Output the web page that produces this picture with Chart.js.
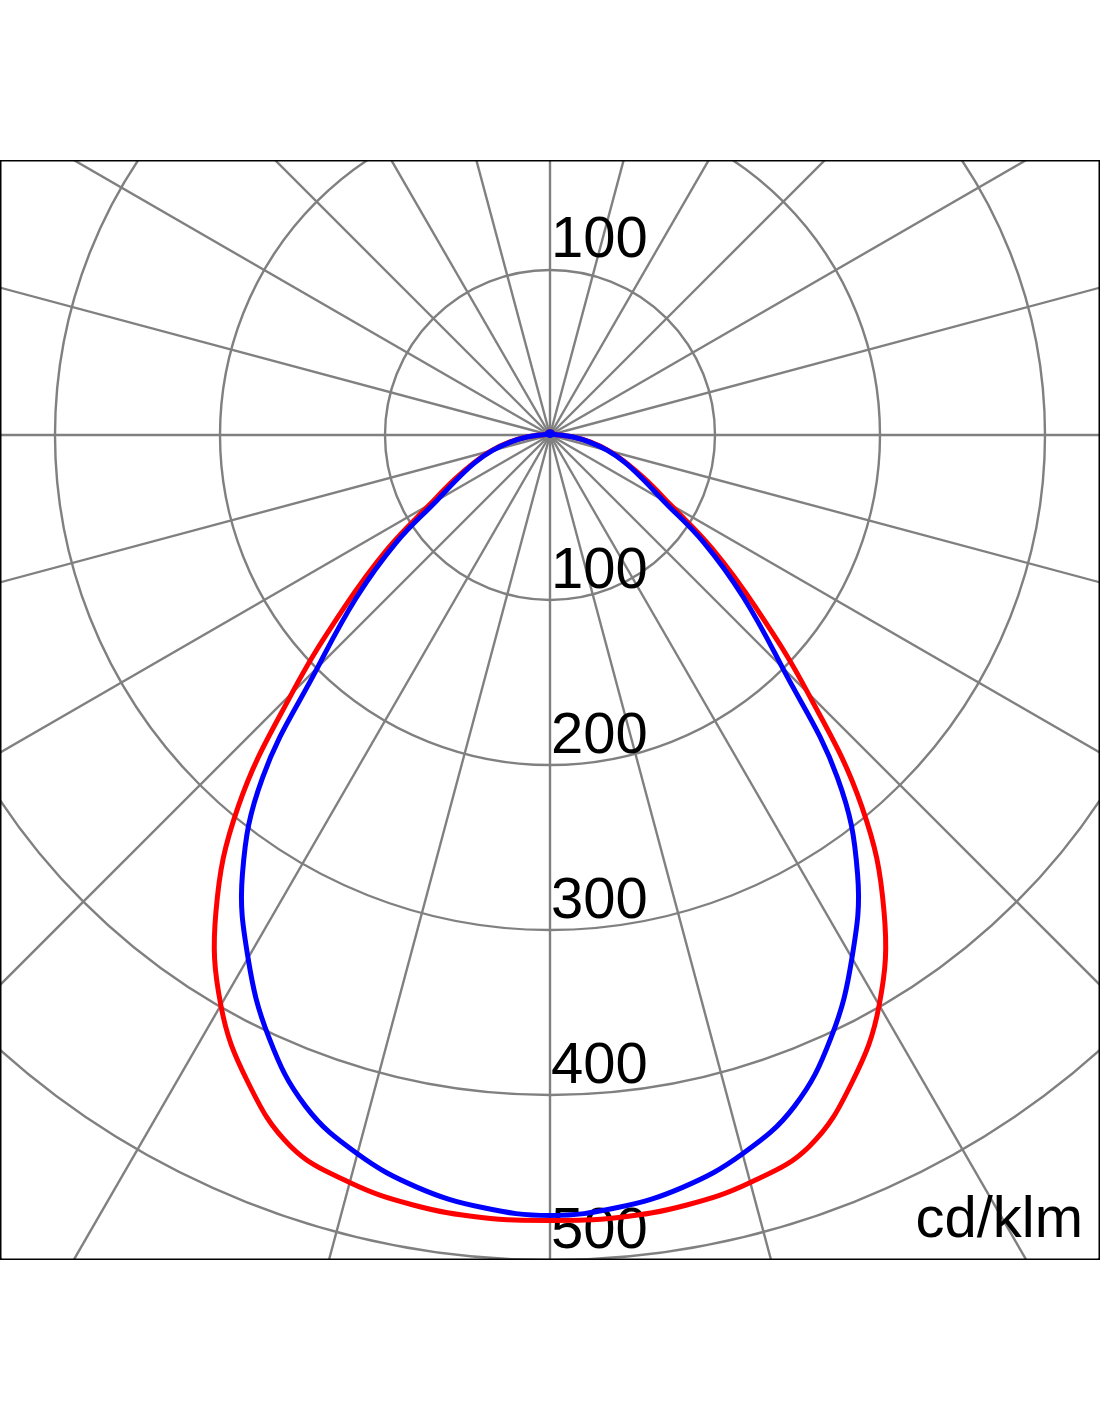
<!DOCTYPE html>
<html><head><meta charset="utf-8">
<script src="https://cdn.jsdelivr.net/npm/chart.js@4/dist/chart.umd.min.js"></script>
<style>html,body{margin:0;padding:0;background:#fff;}#wrap{width:1100px;height:1422px;}</style>
</head><body><div id="wrap"><canvas id="c" width="1100" height="1422"></canvas></div>
<script>
// gamma angle (degrees from nadir) and luminous intensity (cd/klm)
const gammaDeg = [0,5,10,15,20,25,30,35,40,45,50,55,60,65,70,75,80,85,90,95,100,105,110,115,120,125,130,135,140,145,150,155,160,165,170,175,180];
const redC0C180 = [476,476,474,469,459,433,399,353,294,221,163,120,84,64,49,37,25,14,6,3,2,2,2,2,2,2,2,2,2,2,2,2,2,2,2,2,2];
const blueC90C270 = [473,470,463,451,433,403,366,325,271,199,153,114,79,61,48,36,24,14,6,3,2,2,2,2,2,2,2,2,2,2,2,2,2,2,2,2,2];
const ringValues = [100,200,300,400,500,600];
const upperLabelValues = [100];
const lowerLabelValues = [100,200,300,400,500];
const spokeStepDeg = 15;
const unitLabel = 'cd/klm';
const xRange = [-333.333, 333.333];
const yRange = [-500, 166.667];

function toXY(g, v, side) {
  const a = g * Math.PI / 180;
  return {x: side * v * Math.sin(a), y: -v * Math.cos(a)};
}
function loop(values) {
  const pts = [];
  for (let i = gammaDeg.length - 1; i >= 0; i--) pts.push(toXY(gammaDeg[i], values[i], -1));
  for (let i = 1; i < gammaDeg.length; i++) pts.push(toXY(gammaDeg[i], values[i], 1));
  return pts;
}

const polarGrid = {
  id: 'polarGrid',
  beforeDatasetsDraw(chart) {
    const {ctx, chartArea: a, scales: {x, y}} = chart;
    const cx = x.getPixelForValue(0), cy = y.getPixelForValue(0);
    const k = x.getPixelForValue(1) - cx;
    ctx.save();
    ctx.beginPath(); ctx.rect(a.left, a.top, a.right - a.left, a.bottom - a.top); ctx.clip();
    ctx.strokeStyle = '#808080'; ctx.lineWidth = 2.4;
    ringValues.forEach(v => { ctx.beginPath(); ctx.arc(cx, cy, v * k, 0, Math.PI * 2); ctx.stroke(); });
    for (let d = 0; d < 360; d += spokeStepDeg) {
      const r = d * Math.PI / 180;
      ctx.beginPath(); ctx.moveTo(cx, cy); ctx.lineTo(cx + 2000 * Math.cos(r), cy + 2000 * Math.sin(r)); ctx.stroke();
    }
    ctx.fillStyle = '#000';
    ctx.font = '58px "Liberation Sans", Arial, sans-serif';
    ctx.textAlign = 'left'; ctx.textBaseline = 'alphabetic';
    upperLabelValues.forEach(v => ctx.fillText(String(v), cx + 1, y.getPixelForValue(v) - 13));
    lowerLabelValues.forEach(v => ctx.fillText(String(v), cx + 1, y.getPixelForValue(-v) - 12));
    ctx.textAlign = 'right';
    ctx.fillText(unitLabel, a.right - 17, a.bottom - 23);
    ctx.restore();
  },
  afterDraw(chart) {
    const {ctx, chartArea: a, scales: {x, y}} = chart;
    ctx.save();
    ctx.fillStyle = '#0000ff';
    ctx.beginPath(); ctx.arc(x.getPixelForValue(0), y.getPixelForValue(0) - 1, 4, 0, Math.PI * 2); ctx.fill();
    ctx.strokeStyle = '#000'; ctx.lineWidth = 1.5;
    ctx.strokeRect(a.left + 0.75, a.top + 0.75, a.right - a.left - 1.5, a.bottom - a.top - 1.5);
    ctx.restore();
  }
};

new Chart(document.getElementById('c'), {
  type: 'scatter',
  data: {
    datasets: [
      {label: 'C0-C180', data: loop(redC0C180), showLine: true, borderColor: '#ff0000', borderWidth: 5, pointRadius: 0, tension: 0.4, fill: false, order: 2},
      {label: 'C90-C270', data: loop(blueC90C270), showLine: true, borderColor: '#0000ff', borderWidth: 5, pointRadius: 0, tension: 0.4, fill: false, order: 1}
    ]
  },
  options: {
    responsive: false, animation: false,
    layout: {padding: {top: 160, bottom: 162, left: 0, right: 0}},
    plugins: {legend: {display: false}, tooltip: {enabled: false}},
    scales: {
      x: {type: 'linear', min: xRange[0], max: xRange[1], display: false},
      y: {type: 'linear', min: yRange[0], max: yRange[1], display: false}
    }
  },
  plugins: [polarGrid]
});
</script></body></html>
